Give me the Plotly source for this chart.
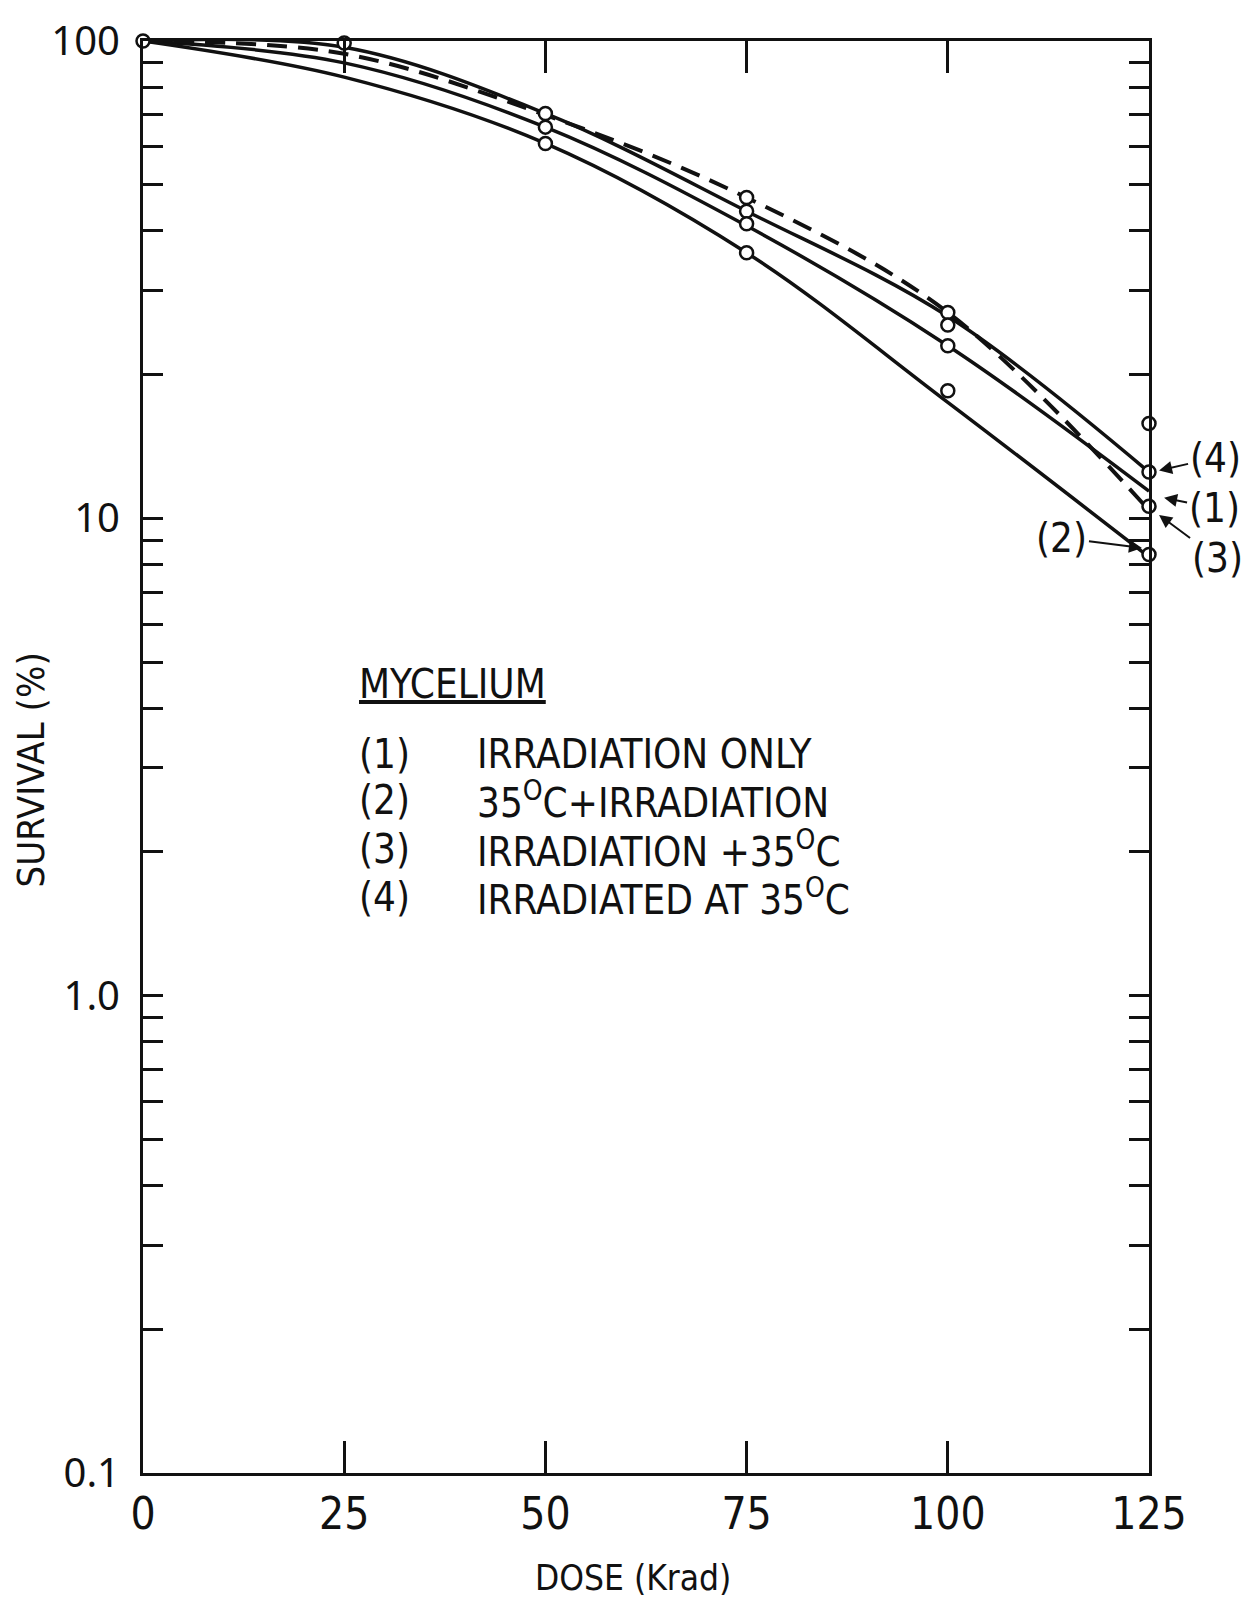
import plotly.graph_objects as go

# Dose (Krad) at which each survival curve is drawn
dose = [0, 25, 50, 75, 100, 125]

# Fitted survival curves (%)
curve_1 = [100, 90, 66, 41, 23, 11.4]      # irradiation only
curve_2 = [100, 84, 61, 36, 17.5, 8.3]     # 35 C + irradiation
curve_3 = [100, 94, 70, 47, 27, 10.4]      # irradiation + 35 C (dashed)
curve_4 = [100, 97, 70.5, 44, 26.5, 12.5]  # irradiated at 35 C

# Measured survival points (%)
pts4_x = [0, 25, 50, 75, 100, 125]
pts4_y = [100, 99, 70.5, 47, 27, 12.5]
pts1_x = [50, 75, 100, 125]
pts1_y = [66, 44, 25.4, 15.8]
pts3_x = [75, 100, 125]
pts3_y = [41.4, 23, 10.6]
pts2_x = [50, 75, 100, 125]
pts2_y = [61, 36, 18.5, 8.4]

x_ticks = [0, 25, 50, 75, 100, 125]
y_ticks = [0.1, 1, 10, 100]
y_tick_text = ["0.1", "1.0", "10", "100"]
y_minor = [m * d for d in (0.1, 1, 10) for m in range(2, 10)]

legend_title = "MYCELIUM"
legend_ids = ["(1)", "(2)", "(3)", "(4)"]
legend_text = [
    "IRRADIATION ONLY",
    "35<sup>O</sup>C+IRRADIATION",
    "IRRADIATION +35<sup>O</sup>C",
    "IRRADIATED AT 35<sup>O</sup>C",
]

NARROW = "Liberation Sans Narrow, Arial Narrow, DejaVu Sans Condensed, sans-serif"
ROUND = "Noto Sans, DejaVu Sans, sans-serif"
INK = "#111111"

fig = go.Figure()

line_style = dict(color=INK, width=3.5, shape="spline", smoothing=1.0)
fig.add_trace(go.Scatter(x=dose, y=curve_4, mode="lines", line=line_style))
fig.add_trace(go.Scatter(x=dose, y=curve_1, mode="lines", line=line_style))
fig.add_trace(go.Scatter(x=dose, y=curve_2, mode="lines", line=line_style))
fig.add_trace(go.Scatter(x=dose, y=curve_3, mode="lines",
                         line=dict(color=INK, width=4, shape="spline",
                                   smoothing=1.0, dash="20px,11px")))

marker_style = dict(symbol="circle", size=13, color="white",
                    line=dict(color=INK, width=2.5))
for px, py in ((pts4_x, pts4_y), (pts1_x, pts1_y), (pts3_x, pts3_y), (pts2_x, pts2_y)):
    fig.add_trace(go.Scatter(x=px, y=py, mode="markers", marker=marker_style,
                             cliponaxis=False))

annotations = []

# Curve labels with arrows pointing to the curve ends (paper coordinates,
# since they sit just outside the plotting area)
curve_labels = [
    ("(4)", 1.010, 0.700, 56, -13),
    ("(1)", 1.015, 0.681, 50, 10),
    ("(3)", 1.010, 0.669, 58, 43),
    ("(2)", 0.993, 0.646, -80, -10),
]
for txt, hx, hy, dx, dy in curve_labels:
    annotations.append(dict(
        x=hx, y=hy, xref="paper", yref="paper", text=txt, showarrow=True,
        ax=dx, ay=dy, arrowhead=2, arrowsize=1.3, arrowwidth=2,
        arrowcolor=INK, font=dict(family=NARROW, size=40, color=INK),
    ))

# Legend block
annotations.append(dict(
    x=0.2127, y=0.551, xref="paper", yref="paper", xanchor="left",
    yanchor="middle", text="<u>" + legend_title + "</u>", showarrow=False,
    font=dict(family=NARROW, size=40, color=INK),
))
row_y = [0.502, 0.470, 0.436, 0.402]
for ident, label, yy in zip(legend_ids, legend_text, row_y):
    annotations.append(dict(
        x=0.2127, y=yy, xref="paper", yref="paper", xanchor="left",
        yanchor="middle", text=ident, showarrow=False,
        font=dict(family=NARROW, size=40, color=INK),
    ))
    annotations.append(dict(
        x=0.330, y=yy, xref="paper", yref="paper", xanchor="left",
        yanchor="middle", text=label, showarrow=False,
        font=dict(family=NARROW, size=40, color=INK),
    ))

# Axis titles
annotations.append(dict(
    x=-0.1113, y=0.4906, xref="paper", yref="paper", textangle=-90,
    text="SURVIVAL (%)", showarrow=False, xanchor="center", yanchor="middle",
    font=dict(family=NARROW, size=38, color=INK),
))
annotations.append(dict(
    x=0.487, y=-0.073, xref="paper", yref="paper",
    text="DOSE (Krad)", showarrow=False, xanchor="center", yanchor="middle",
    font=dict(family=NARROW, size=35, color=INK),
))

fig.update_layout(
    width=1249, height=1600,
    margin=dict(l=143, r=100, t=30, b=127),
    paper_bgcolor="white", plot_bgcolor="white",
    showlegend=False,
    annotations=annotations,
)

fig.update_xaxes(
    range=[0, 125], tickvals=x_ticks, ticktext=[str(v) for v in x_ticks],
    ticks="inside", ticklen=32, tickwidth=3, tickcolor=INK,
    showline=True, linewidth=3, linecolor=INK, mirror="ticks",
    showgrid=False, zeroline=False,
    tickfont=dict(family=NARROW, size=44, color=INK),
    ticklabelstandoff=0,
)
fig.update_yaxes(
    type="log", range=[-1, 2], tickvals=y_ticks, ticktext=y_tick_text,
    ticks="inside", ticklen=20, tickwidth=3, tickcolor=INK,
    showline=True, linewidth=3, linecolor=INK, mirror="ticks",
    showgrid=False, zeroline=False,
    minor=dict(tickvals=y_minor, ticks="inside", ticklen=20, tickwidth=3,
               tickcolor=INK, showgrid=False),
    tickfont=dict(family=ROUND, size=40, color=INK),
    ticklabelstandoff=12,
)

fig.write_html("out.html")
